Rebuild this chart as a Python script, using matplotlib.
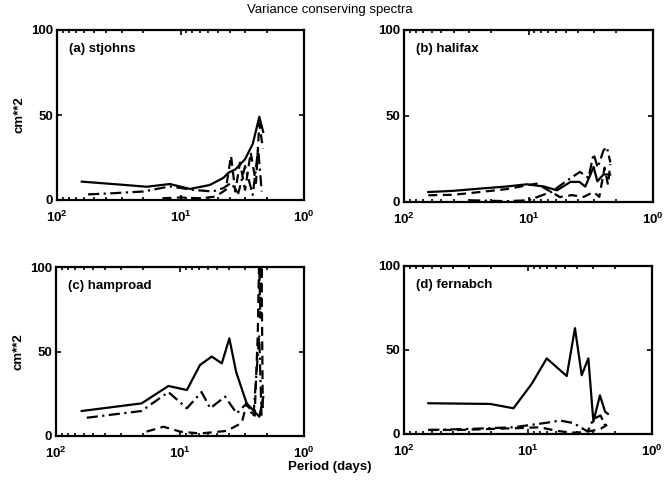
import numpy as np
import matplotlib.pyplot as plt

plt.rcParams['font.family'] = ['Liberation Sans', 'DejaVu Sans']

# panel names
names = ['(a) stjohns', '(b) halifax', '(c) hamproad', '(d) fernabch']

# (a) stjohns
a_solid_p = [63, 30, 18.8, 12.2, 8.4, 5.8, 4.5, 4.1, 3.6, 3.0, 2.6, 2.3, 2.14]
a_solid_v = [10.8, 9.0, 7.8, 9.4, 6.5, 8.8, 13, 16, 18, 24, 33, 49, 40]
a_dash_p = [14, 10, 7, 5.2, 4.3, 3.9, 3.6, 3.3, 3.0, 2.7, 2.45, 2.3, 2.15]
a_dash_v = [1.0, 1.5, 1.0, 2.0, 6.0, 26, 5, 22, 6, 28, 10, 45, 30]
a_dd_p = [56, 35, 20, 12.2, 8, 5.5, 4.5, 3.9, 3.4, 3.0, 2.6, 2.35, 2.2]
a_dd_v = [3.3, 4.0, 5.0, 8.0, 6.0, 5.0, 7.0, 10, 4, 20, 3, 30, 5]

# (b) halifax
b_solid_p = [63.8, 40, 24.5, 15, 10.3, 7.5, 5.9, 4.6, 3.9, 3.5, 3.2, 3.0, 2.8, 2.5, 2.21]
b_solid_v = [5.8, 6.5, 7.8, 9.0, 10.3, 9.0, 6.8, 11.7, 11.7, 9.0, 15.5, 20.4, 12, 16, 16]
b_dash_p = [63.8, 40, 24.5, 15, 8.6, 5.6, 4.5, 3.6, 3.0, 2.7, 2.45, 2.3, 2.2]
b_dash_v = [3.9, 4.2, 5.8, 7.5, 10.7, 2.9, 4.0, 3.0, 5.8, 3.0, 20, 10, 22]
b_dd_p = [30, 15, 10, 6.5, 4.9, 3.86, 3.3, 3.0, 2.78, 2.5, 2.35, 2.2]
b_dd_v = [1.0, 0.5, 1.0, 6.0, 12.5, 17.5, 14, 28, 20, 30, 32, 23]

# (c) hamproad
c_solid_p = [62, 20.4, 12.4, 8.8, 6.9, 5.55, 4.6, 4.0, 3.53, 2.9, 2.29, 2.13]
c_solid_v = [14.8, 19.3, 29.6, 27.2, 42, 47, 43, 57.8, 38, 19.3, 11.4, 23]
c_dash_p = [18.6, 13.6, 10, 6.9, 4.2, 3.18, 2.9, 2.5, 2.36, 2.3, 2.25, 2.2, 2.15]
c_dash_v = [2.6, 5.5, 2.6, 1.5, 3.0, 7.7, 19, 12, 60, 105, 70, 105, 15]
c_dd_p = [56.5, 20.4, 12.4, 8.8, 6.7, 5.7, 4.33, 3.49, 2.9, 2.56, 2.4, 2.3, 2.2]
c_dd_v = [10.8, 14.8, 26, 16.4, 26, 16.4, 23.3, 13.4, 19.3, 11.4, 40, 60, 12]

# (d) fernabch
d_solid_p = [63.7, 20.2, 13.1, 9.3, 7.06, 4.87, 4.18, 3.69, 3.26, 2.97, 2.63, 2.39, 2.27]
d_solid_v = [18.3, 17.9, 15.3, 30, 45, 34.5, 63, 35, 45, 7.3, 23, 13.3, 12]
d_dash_p = [63.7, 35, 20, 12, 8, 6, 4.5, 3.7, 3.0, 2.6, 2.3]
d_dash_v = [2.4, 2.4, 3.0, 3.5, 4.0, 2.0, 0.8, 1.0, 2.0, 3.0, 5.5]
d_dd_p = [63.7, 30, 13.1, 7.06, 5.5, 4.3, 3.7, 3.3, 2.97, 2.6, 2.35]
d_dd_v = [2.4, 3.0, 4.0, 6.7, 8.0, 6.5, 3.6, 1.5, 9.0, 11, 4.0]

panels = [
    (a_solid_p, a_solid_v, a_dash_p, a_dash_v, a_dd_p, a_dd_v),
    (b_solid_p, b_solid_v, b_dash_p, b_dash_v, b_dd_p, b_dd_v),
    (c_solid_p, c_solid_v, c_dash_p, c_dash_v, c_dd_p, c_dd_v),
    (d_solid_p, d_solid_v, d_dash_p, d_dash_v, d_dd_p, d_dd_v),
]

fig = plt.figure(figsize=(6.65, 4.87), dpi=100)
W, H = 665.0, 487.0
# axes boxes in pixels: left, top, right, bottom
boxes = [(57, 30, 304, 200), (404, 30, 653, 202),
         (56, 267, 304, 436), (404, 266, 652, 434)]

for i, (box, data) in enumerate(zip(boxes, panels)):
    l, t, r, b = box
    ax = fig.add_axes([l / W, 1 - b / H, (r - l) / W, (b - t) / H])
    sp, sv, dp, dv, ddp, ddv = data
    ax.plot(sp, sv, color='black', lw=1.6, ls='-')
    ax.plot(dp, dv, color='black', lw=1.6, ls=(0, (4, 2.5)))
    ax.plot(ddp, ddv, color='black', lw=1.6, ls=(0, (5, 2, 1, 2)))
    ax.set_xscale('log')
    ax.set_xlim(100, 1)
    ax.set_ylim(0, 100)
    ax.set_yticks([0, 50, 100])
    ax.set_xticks([100, 10, 1])
    ax.tick_params(which='both', direction='in', top=True, right=True,
                   labelsize=9.5, width=1.2)
    ax.tick_params(axis='x', pad=7)
    ax.tick_params(axis='y', pad=3)
    ax.tick_params(which='minor', length=2)
    for s in ax.spines.values():
        s.set_linewidth(1.6)
    for lab in ax.get_xticklabels() + ax.get_yticklabels():
        lab.set_fontweight('bold')
    ax.text(0.05, 0.87, names[i], transform=ax.transAxes, fontsize=9.5,
            fontweight='bold')
    if i in (0, 2):
        ax.set_ylabel('cm**2', fontsize=9.5, fontweight='bold', labelpad=4)

fig.text(330 / W, 1 - 10 / H, 'Variance conserving spectra', ha='center',
         va='center', fontsize=9.5)
fig.text(330 / W, 1 - 467 / H, 'Period (days)', ha='center', va='center',
         fontsize=9.5, fontweight='bold')

fig.savefig('out.png', dpi=100)
